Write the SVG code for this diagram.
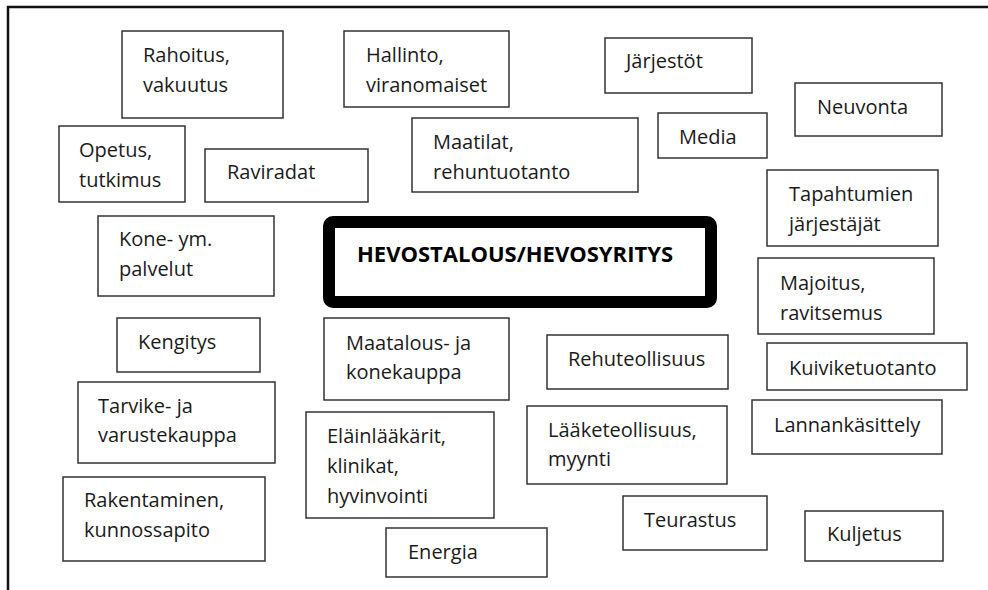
<svg xmlns="http://www.w3.org/2000/svg" width="988" height="590" viewBox="0 0 988 590">
<style>
.b{fill:#fff;stroke:#333;stroke-width:1.5}
.t{font-family:"Open Sans","Noto Sans",sans-serif;font-size:20px;fill:#1a1a1a}
.c{font-family:"Open Sans","Noto Sans",sans-serif;font-size:21px;font-weight:bold;fill:#000}
</style>
<rect width="988" height="590" fill="#fff"/>
<path d="M8,590 V7 H988" fill="none" stroke="#111" stroke-width="2.5"/>
<g id="rahoitus"><rect class="b" x="122" y="31" width="161" height="87"/><text class="t" x="143" y="62">Rahoitus,</text><text class="t" x="143" y="92">vakuutus</text></g>
<g id="hallinto"><rect class="b" x="344" y="31" width="165" height="76"/><text class="t" x="366" y="62">Hallinto,</text><text class="t" x="366" y="92">viranomaiset</text></g>
<g id="jarjestot"><rect class="b" x="605" y="38" width="147" height="55"/><text class="t" x="626" y="68">Järjestöt</text></g>
<g id="neuvonta"><rect class="b" x="795" y="83" width="147" height="53"/><text class="t" x="817" y="114">Neuvonta</text></g>
<g id="opetus"><rect class="b" x="59" y="126" width="126" height="76"/><text class="t" x="79" y="157">Opetus,</text><text class="t" x="79" y="187">tutkimus</text></g>
<g id="raviradat"><rect class="b" x="205" y="149" width="163" height="53"/><text class="t" x="227" y="179">Raviradat</text></g>
<g id="maatilat"><rect class="b" x="412" y="118" width="226" height="74"/><text class="t" x="433" y="149">Maatilat,</text><text class="t" x="433" y="179">rehuntuotanto</text></g>
<g id="media"><rect class="b" x="658" y="113" width="109" height="45"/><text class="t" x="679" y="144">Media</text></g>
<g id="tapahtumien"><rect class="b" x="767" y="170" width="171" height="76"/><text class="t" x="789" y="201">Tapahtumien</text><text class="t" x="789" y="231">järjestäjät</text></g>
<g id="kone"><rect class="b" x="98" y="216" width="176" height="80"/><text class="t" x="119" y="246">Kone- ym.</text><text class="t" x="119" y="276">palvelut</text></g>
<g id="hevostalous"><rect x="329" y="222" width="382" height="80" rx="4" fill="#fff" stroke="#000" stroke-width="12"/><text class="c" x="357" y="262" textLength="316" lengthAdjust="spacingAndGlyphs">HEVOSTALOUS/HEVOSYRITYS</text></g>
<g id="majoitus"><rect class="b" x="758" y="258" width="176" height="76"/><text class="t" x="780" y="290">Majoitus,</text><text class="t" x="780" y="320">ravitsemus</text></g>
<g id="kengitys"><rect class="b" x="117" y="318" width="143" height="54"/><text class="t" x="138" y="349">Kengitys</text></g>
<g id="maatalous"><rect class="b" x="324" y="318" width="185" height="82"/><text class="t" x="346" y="350">Maatalous- ja</text><text class="t" x="346" y="379">konekauppa</text></g>
<g id="rehuteollisuus"><rect class="b" x="547" y="335" width="181" height="54"/><text class="t" x="568" y="366">Rehuteollisuus</text></g>
<g id="kuiviketuotanto"><rect class="b" x="767" y="343" width="200" height="47"/><text class="t" x="789" y="375">Kuiviketuotanto</text></g>
<g id="tarvike"><rect class="b" x="78" y="382" width="197" height="81"/><text class="t" x="98" y="413">Tarvike- ja</text><text class="t" x="98" y="442">varustekauppa</text></g>
<g id="lannankasittely"><rect class="b" x="752" y="400" width="190" height="54"/><text class="t" x="774" y="432">Lannankäsittely</text></g>
<g id="laaketeollisuus"><rect class="b" x="527" y="406" width="200" height="78"/><text class="t" x="548" y="437">Lääketeollisuus,</text><text class="t" x="548" y="466">myynti</text></g>
<g id="elainlaakarit"><rect class="b" x="306" y="412" width="188" height="106"/><text class="t" x="327" y="443">Eläinlääkärit,</text><text class="t" x="327" y="473">klinikat,</text><text class="t" x="327" y="503">hyvinvointi</text></g>
<g id="rakentaminen"><rect class="b" x="63" y="477" width="202" height="84"/><text class="t" x="84" y="507">Rakentaminen,</text><text class="t" x="84" y="537">kunnossapito</text></g>
<g id="teurastus"><rect class="b" x="623" y="496" width="144" height="54"/><text class="t" x="644" y="527">Teurastus</text></g>
<g id="kuljetus"><rect class="b" x="805" y="511" width="138" height="50"/><text class="t" x="827" y="541">Kuljetus</text></g>
<g id="energia"><rect class="b" x="386" y="528" width="161" height="49"/><text class="t" x="408" y="559">Energia</text></g>
<g id="connectors"/>
</svg>
